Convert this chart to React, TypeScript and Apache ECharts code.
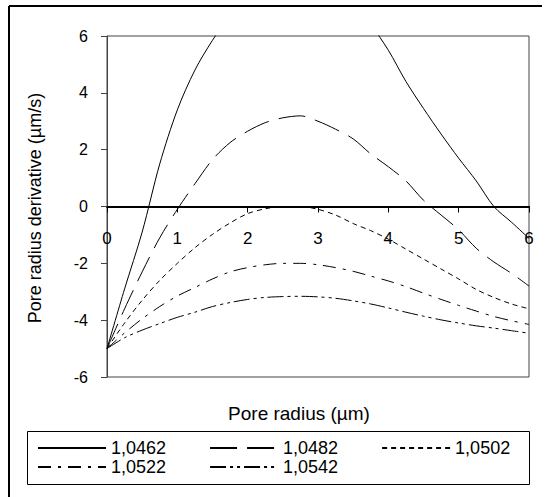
import React, { useEffect, useRef } from "react";
import * as echarts from "echarts";

const xValues = [0, 0.25, 0.5, 0.75, 1, 1.25, 1.5, 1.75, 2, 2.25, 2.5, 2.75, 3, 3.25, 3.5, 3.75, 4, 4.25, 4.5, 4.75, 5, 5.25, 5.5, 5.75, 6];
const seriesNames = ["1,0462", "1,0482", "1,0502", "1,0522", "1,0542"];
const s1 = [-5, -2.9, -0.9, 1.5, 3.4, 4.8, 5.85, 6.7, 7.3, 7.7, 7.9, 8.0, 7.9, 7.6, 7.1, 6.4, 5.5, 4.4, 3.45, 2.55, 1.7, 0.9, 0.0, -0.55, -1.12];
const s2 = [-5, -3.6, -2.3, -1.1, -0.1, 0.8, 1.65, 2.25, 2.65, 2.95, 3.12, 3.19, 3.0, 2.72, 2.38, 1.85, 1.4, 0.9, 0.22, -0.3, -0.82, -1.47, -1.95, -2.35, -2.8];
const s3 = [-5, -4.1, -3.3, -2.6, -2.0, -1.45, -0.98, -0.58, -0.25, -0.08, 0.0, 0.0, -0.1, -0.3, -0.6, -0.85, -1.15, -1.5, -1.85, -2.2, -2.55, -2.92, -3.2, -3.43, -3.6];
const s4 = [-5, -4.45, -3.95, -3.52, -3.15, -2.85, -2.55, -2.3, -2.15, -2.05, -2.0, -2.0, -2.05, -2.15, -2.28, -2.45, -2.62, -2.82, -3.05, -3.27, -3.48, -3.68, -3.87, -4.02, -4.15];
const s5 = [-5, -4.62, -4.35, -4.12, -3.9, -3.72, -3.52, -3.38, -3.27, -3.2, -3.17, -3.16, -3.18, -3.23, -3.32, -3.43, -3.57, -3.72, -3.86, -3.99, -4.1, -4.2, -4.28, -4.37, -4.46];
const allSeries = [s1, s2, s3, s4, s5];
const dashTypes: any[] = ["solid", [27, 10], [5, 4], [13, 7, 3, 7], [16, 4, 3, 4, 3, 4]];
const xTicks = { min: 0, max: 6, interval: 1 };
const yTicks = { min: -6, max: 6, interval: 2 };
const xTitle = "Pore radius (µm)";
const yTitle = "Pore radius derivative (µm/s)";

const FONT = "'Liberation Sans', Arial, sans-serif";

// grid geometry (pixels)
const GRID_TOP = 36;
const GRID_BOTTOM_PX = 377;
const GRID_H = GRID_BOTTOM_PX - GRID_TOP;
const zeroOffset = -(GRID_H * (0 - yTicks.min)) / (yTicks.max - yTicks.min);

export default function App() {
  const ref = useRef<HTMLDivElement>(null);
  useEffect(() => {
    if (!ref.current) return;
    const chart = echarts.init(ref.current, undefined, { renderer: "svg" });
    const legendText = { fontSize: 18, fontFamily: FONT, color: "#000" };
    const legendCommon = {
      left: 37,
      padding: 0,
      itemWidth: 68,
      itemHeight: 14,
      itemGap: 43,
      textStyle: legendText,
      itemStyle: { color: "rgba(0,0,0,0)", opacity: 0, borderWidth: 0 },
      selectedMode: false,
    };
    chart.setOption({
      animation: false,
      backgroundColor: "#fff",
      grid: {
        left: 107,
        right: 17,
        top: GRID_TOP,
        bottom: 497 - GRID_BOTTOM_PX,
        show: true,
        borderColor: "#444",
        borderWidth: 1,
        containLabel: false,
      },
      xAxis: {
        type: "value",
        min: xTicks.min,
        max: xTicks.max,
        interval: xTicks.interval,
        position: "bottom",
        offset: zeroOffset,
        axisLine: { show: true, onZero: false, lineStyle: { color: "#000", width: 2 } },
        axisTick: { show: true, inside: false, length: 6, lineStyle: { color: "#000" } },
        axisLabel: { margin: 23, fontSize: 17, fontFamily: FONT, color: "#000" },
        splitLine: { show: false },
      },
      yAxis: {
        type: "value",
        min: yTicks.min,
        max: yTicks.max,
        interval: yTicks.interval,
        axisLine: { show: true, onZero: false, lineStyle: { color: "#444", width: 1 } },
        axisTick: { show: true, length: 6, lineStyle: { color: "#444" } },
        axisLabel: { margin: 19, fontSize: 16, fontFamily: FONT, color: "#000" },
        splitLine: { show: false },
      },
      legend: [
        { ...legendCommon, data: seriesNames.slice(0, 3), top: 439 },
        { ...legendCommon, data: seriesNames.slice(3), top: 458 },
      ],
      graphic: [
        { type: "line", shape: { x1: 9, y1: 6, x2: 542, y2: 6 }, style: { stroke: "#000", lineWidth: 2 } },
        { type: "line", shape: { x1: 9, y1: 6, x2: 9, y2: 497 }, style: { stroke: "#000", lineWidth: 2 } },
        { type: "rect", shape: { x: 27.5, y: 431.5, width: 502, height: 53 }, style: { fill: "none", stroke: "#000", lineWidth: 1 }, z: -1 },
        {
          type: "text",
          x: 299,
          y: 413,
          style: { text: xTitle, fontSize: 19, fontFamily: FONT, fill: "#000", align: "center", verticalAlign: "middle" },
        },
        {
          type: "text",
          x: 35,
          y: 208,
          rotation: Math.PI / 2,
          style: { text: yTitle, fontSize: 18, fontFamily: FONT, fill: "#000", align: "center", verticalAlign: "middle" },
        },
      ],
      series: allSeries.map((vals, i) => ({
        name: seriesNames[i],
        type: "line",
        data: vals.map((v, j) => [xValues[j], v]),
        symbol: "none",
        smooth: 0.3,
        clip: true,
        lineStyle: { color: "#000", width: 1, type: dashTypes[i] },
        itemStyle: { color: "#000" },
      })),
    });
    return () => chart.dispose();
  }, []);
  return <div ref={ref} style={{ width: 546, height: 497, position: "absolute", left: 0, top: 0 }} />;
}
